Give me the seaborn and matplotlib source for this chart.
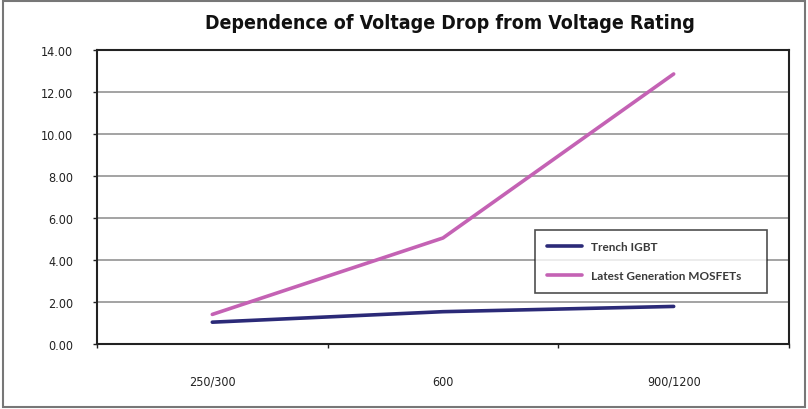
import matplotlib
matplotlib.use("Agg")
import matplotlib.pyplot as plt
import pandas as pd
import seaborn as sns
from matplotlib.patches import Rectangle
from matplotlib.ticker import FixedLocator

ratings = ["250/300", "600", "900/1200"]
igbt = [1.04, 1.54, 1.79]
mosfet = [1.41, 5.05, 12.86]
series_names = ["Trench IGBT", "Latest Generation MOSFETs"]
colors = ["#2b2a78", "#c462b4"]
y_ticks = [0, 2, 4, 6, 8, 10, 12, 14]

df = pd.DataFrame({
    "Rating": ratings * 2,
    "Voltage Drop": igbt + mosfet,
    "Series": [series_names[0]] * 3 + [series_names[1]] * 3,
})

sns.set_style("white")
plt.rcParams["font.family"] = ["DejaVu Sans"]

fig = plt.figure(figsize=(8.08, 4.10), dpi=100)
ax = fig.add_axes([0.12, 0.1585, 0.8565, 0.717])

sns.lineplot(data=df, x="Rating", y="Voltage Drop", hue="Series",
             palette=colors, linewidth=2.6, sort=False, ax=ax)

ax.set_xlim(-0.5, 2.5)
ax.set_ylim(0, 14)
ax.set_yticks(y_ticks)
ax.set_yticklabels([f"{v:.2f}" for v in y_ticks], fontsize=9,
                   fontstretch="condensed", color="#222222")
ax.yaxis.grid(True, color="#8a8a8a", linewidth=1.1)
ax.set_axisbelow(True)

ax.set_xticks(range(len(ratings)))
ax.set_xticklabels(ratings, fontsize=9, fontstretch="condensed", color="#222222")
ax.xaxis.set_minor_locator(FixedLocator([-0.5, 0.5, 1.5, 2.5]))
ax.tick_params(axis="x", which="major", bottom=True, length=0, pad=22)
ax.tick_params(axis="x", which="minor", bottom=True, length=3, width=1,
               color="#222222", direction="out")
ax.tick_params(axis="y", left=True, length=3, width=1, color="#222222", pad=14,
               direction="out")
ax.set_xlabel("")
ax.set_ylabel("")

for s in ax.spines.values():
    s.set_visible(True)
    s.set_color("#222222")
    s.set_linewidth(1.5)

leg = ax.legend(loc="lower left", bbox_to_anchor=(0.624, 0.154, 0.353, 0.214),
                mode="expand", frameon=True, fancybox=False, edgecolor="#222222",
                prop={"family": "Lato", "weight": "bold", "size": 8.5},
                handlelength=3.0, labelspacing=1.5, borderpad=1.0, handletextpad=0.8)
leg.get_frame().set_linewidth(1.2)
for t in leg.get_texts():
    t.set_color("#3a3a3a")

fig.suptitle("Dependence of Voltage Drop from Voltage Rating", x=0.557, y=0.965,
             fontsize=14, fontweight="bold", fontstretch="condensed", color="#111111")

fig.patches.append(Rectangle((0.004, 0.005), 0.992, 0.99, transform=fig.transFigure,
                             fill=False, edgecolor="#777777", linewidth=1.5))

fig.savefig("out.png", dpi=100)
